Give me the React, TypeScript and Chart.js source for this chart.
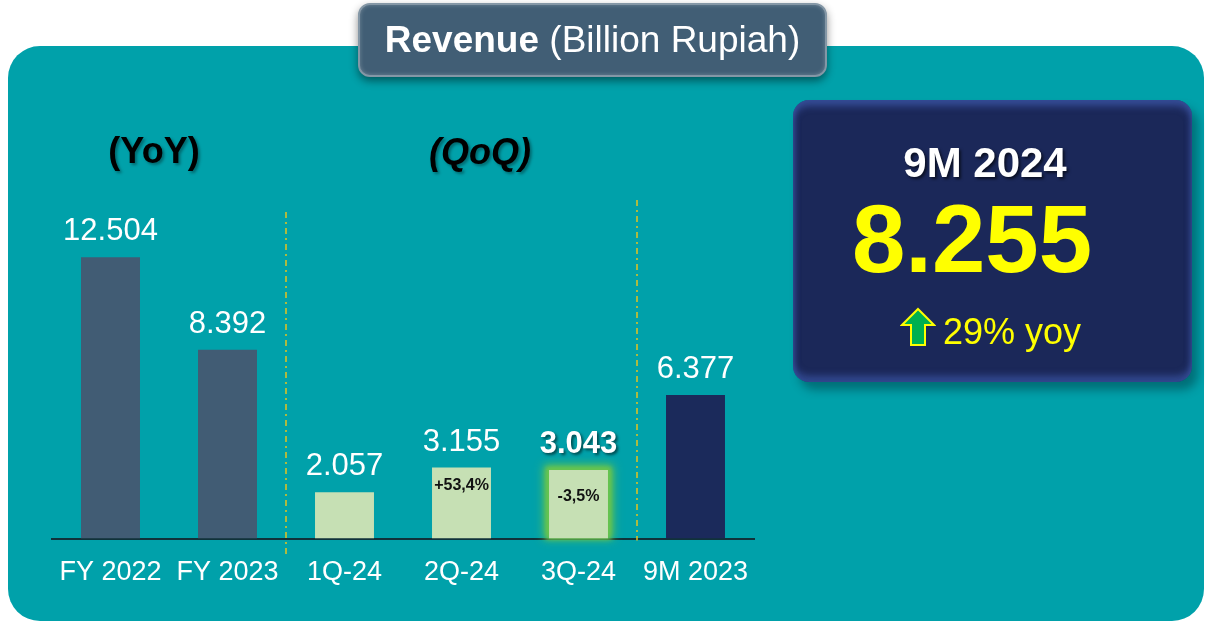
import React, { useEffect, useRef } from "react";
import { Chart, registerables } from "chart.js";

Chart.register(...registerables);

// ---------- data ----------
const categories = ["FY 2022", "FY 2023", "1Q-24", "2Q-24", "3Q-24", "9M 2023"];
const revenue = [12504, 8392, 2057, 3155, 3043, 6377];
const growthLabels = ["", "", "", "+53,4%", "-3,5%", ""];
const highlightIndex = 4;
const headlinePeriod = "9M 2024";
const headlineValue = "8.255";
const headlineGrowth = "29% yoy";

// ---------- styles ----------
const FONT = '"Liberation Sans", Arial, Helvetica, sans-serif';
const barColors = ["#415C74", "#415C74", "#C6E0B4", "#C6E0B4", "#C6E0B4", "#1B2A5B"];
const growthOffsets = [0, 0, 0, 18, 26, 0];

const fmt = (v: number) => (v / 1000).toFixed(3);

const overlayPlugin = {
  id: "overlay",
  beforeDatasetsDraw(chart: any) {
    const ctx = chart.ctx;
    const meta = chart.getDatasetMeta(0);
    const area = chart.chartArea;
    // soft green glow on highlighted bar (shadow only, source drawn off-canvas)
    const hb = meta.data[highlightIndex];
    const p = hb.getProps(["x", "y", "base", "width"], true);
    const off = 5000;
    ctx.save();
    ctx.shadowColor = "rgba(104, 196, 78, 1)";
    ctx.shadowOffsetX = off;
    ctx.shadowOffsetY = 0;
    ctx.fillStyle = "#000";
    ctx.shadowBlur = 9;
    ctx.fillRect(p.x - p.width / 2 - 5 - off, p.y - 5, p.width + 10, p.base - p.y + 5);
    ctx.shadowBlur = 4;
    ctx.fillRect(p.x - p.width / 2 - 3 - off, p.y - 3, p.width + 6, p.base - p.y + 3);
    ctx.restore();
    // separators
    const sepA = (meta.data[1].x + meta.data[2].x) / 2;
    const sepB = (meta.data[4].x + meta.data[5].x) / 2;
    ctx.save();
    ctx.strokeStyle = "#E6C21E";
    ctx.lineWidth = 1.5;
    ctx.setLineDash([6, 4, 2, 4]);
    ctx.beginPath();
    ctx.moveTo(Math.round(sepA), area.top + 11);
    ctx.lineTo(Math.round(sepA), area.bottom + 17);
    ctx.moveTo(Math.round(sepB), area.top - 1);
    ctx.lineTo(Math.round(sepB), area.bottom + 2);
    ctx.stroke();
    ctx.restore();
  },
  afterDatasetsDraw(chart: any) {
    const ctx = chart.ctx;
    const meta = chart.getDatasetMeta(0);
    meta.data.forEach((el: any, i: number) => {
      const { x, y } = el.getProps(["x", "y"], true);
      ctx.save();
      ctx.textAlign = "center";
      ctx.textBaseline = "alphabetic";
      ctx.fillStyle = "#FFFFFF";
      if (i === highlightIndex) {
        ctx.font = `bold 31px ${FONT}`;
        ctx.shadowColor = "rgba(0,0,0,0.55)";
        ctx.shadowOffsetX = 2;
        ctx.shadowOffsetY = 2;
        ctx.shadowBlur = 3;
      } else {
        ctx.font = `31px ${FONT}`;
      }
      ctx.fillText(fmt(revenue[i]), x, y - 17);
      ctx.restore();
      if (growthLabels[i]) {
        ctx.save();
        ctx.font = `bold 16px ${FONT}`;
        ctx.fillStyle = "#111111";
        ctx.textAlign = "center";
        ctx.textBaseline = "middle";
        ctx.fillText(growthLabels[i], x, y + growthOffsets[i]);
        ctx.restore();
      }
    });
  },
};

const abs = (extra: React.CSSProperties): React.CSSProperties => ({ position: "absolute", ...extra });

export default function App() {
  const canvasRef = useRef<HTMLCanvasElement>(null);

  useEffect(() => {
    const chart = new Chart(canvasRef.current as HTMLCanvasElement, {
      type: "bar",
      data: {
        labels: categories,
        datasets: [
          {
            data: revenue,
            backgroundColor: barColors,
            borderWidth: 0,
            categoryPercentage: 1,
            barPercentage: 0.504,
          },
        ],
      },
      options: {
        responsive: false,
        animation: false,
        events: [],
        layout: { padding: { top: 201, left: 52, right: 451, bottom: 16 } },
        plugins: { legend: { display: false }, tooltip: { enabled: false }, title: { display: false } },
        scales: {
          x: {
            z: 1,
            grid: { display: false, drawTicks: false },
            border: { display: true, color: "#10323A", width: 2 },
            ticks: {
              color: "#FFFFFF",
              font: { family: FONT, size: 27 },
              padding: 18,
              maxRotation: 0,
              minRotation: 0,
              autoSkip: false,
            },
          },
          y: { display: false, min: 0, max: 15000 },
        },
      },
      plugins: [overlayPlugin],
    } as any);
    return () => chart.destroy();
  }, []);

  const center = (x: number, y: number): React.CSSProperties => ({
    position: "absolute",
    left: x,
    top: y,
    transform: "translate(-50%, -50%)",
    lineHeight: 1,
    whiteSpace: "nowrap",
  });

  return (
    <div
      style={{
        position: "absolute",
        left: 0,
        top: 0,
        width: 1205,
        height: 623,
        overflow: "hidden",
        background: "#FFFFFF",
        fontFamily: FONT,
      }}
    >
      <style>{`html,body{margin:0;padding:0;overflow:hidden;}`}</style>
      {/* teal panel */}
      <div style={abs({ left: 8, top: 46, width: 1196, height: 575, background: "#00A1AA", borderRadius: 32 })} />

      {/* chart */}
      <canvas ref={canvasRef} width={1205} height={623} style={abs({ left: 0, top: 0, width: 1205, height: 623 })} />

      {/* section labels */}
      <div style={{ ...center(154, 151), fontSize: 36, fontWeight: "bold", color: "#000", textShadow: "2px 2px 3px rgba(0,0,0,0.35)" }}>
        (YoY)
      </div>
      <div
        style={{
          ...center(480, 152),
          fontSize: 36,
          fontWeight: "bold",
          fontStyle: "italic",
          color: "#000",
          textShadow: "2px 2px 3px rgba(0,0,0,0.35)",
        }}
      >
        (QoQ)
      </div>

      {/* title box */}
      <div
        style={abs({
          left: 358,
          top: 3,
          width: 469,
          height: 74,
          boxSizing: "border-box",
          background: "#415E75",
          border: "2px solid #8497A6",
          borderRadius: 12,
          boxShadow: "0 4px 9px rgba(0,0,0,0.45), inset 0 0 4px rgba(255,255,255,0.25)",
          display: "flex",
          alignItems: "center",
          justifyContent: "center",
          color: "#FFFFFF",
          fontSize: 37,
          whiteSpace: "nowrap",
        })}
      >
        <span style={{ fontWeight: "bold" }}>Revenue</span>&nbsp;(Billion Rupiah)
      </div>

      {/* headline box */}
      <div
        style={abs({
          left: 793,
          top: 100,
          width: 399,
          height: 282,
          background: "#1B2859",
          borderRadius: 16,
          boxShadow:
            "6px 8px 10px rgba(0,50,60,0.45), inset 0 6px 7px rgba(70,100,190,0.6), inset 0 -6px 7px rgba(70,100,190,0.55)",
        })}
      />
      <div style={{ ...center(985, 163), fontSize: 42, fontWeight: "bold", color: "#FFFFFF", textShadow: "2px 2px 3px rgba(0,0,0,0.6)" }}>
        {headlinePeriod}
      </div>
      <div style={{ ...center(972, 239), fontSize: 96, fontWeight: "bold", color: "#FFFF00" }}>{headlineValue}</div>
      <svg width={36} height={40} viewBox="0 0 36 40" style={abs({ left: 900, top: 307 })}>
        <polygon points="18,2 34,18 25,18 25,38 11,38 11,18 2,18" fill="#00B050" stroke="#FFFF00" strokeWidth={2} />
      </svg>
      <div
        style={{
          position: "absolute",
          left: 943,
          top: 332,
          transform: "translateY(-50%)",
          lineHeight: 1,
          fontSize: 36,
          color: "#FFFF00",
          whiteSpace: "nowrap",
        }}
      >
        {headlineGrowth}
      </div>
    </div>
  );
}
